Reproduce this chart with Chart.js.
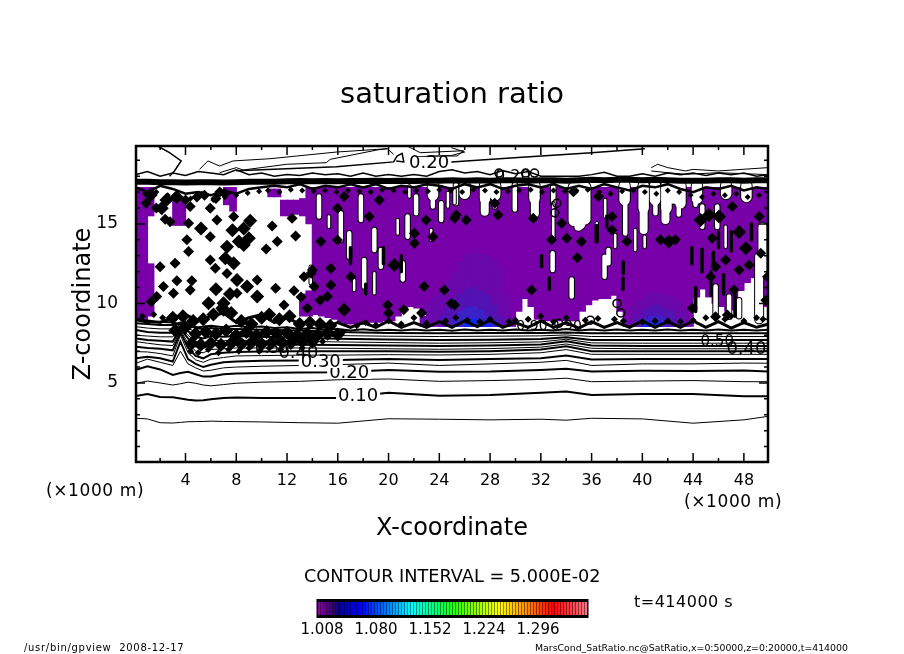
<!DOCTYPE html>
<html><head><meta charset="utf-8">
<style>
html,body{margin:0;padding:0;background:#fff;width:904px;height:654px;overflow:hidden}
#main{position:absolute;left:0;top:0}
#cb{position:absolute;left:296px;top:594px}
.t{position:absolute;font-family:"DejaVu Sans",sans-serif;color:#000;white-space:nowrap;line-height:1}
</style>
<script src="https://cdn.jsdelivr.net/npm/chart.js@4"></script>
</head><body>
<canvas id="main" width="904" height="654"></canvas>
<canvas id="cb" width="310" height="45"></canvas>
<div class="t" style="left:46px;top:482px;font-size:17px;letter-spacing:.6px">(×1000 m)</div>
<div class="t" style="left:684px;top:493px;font-size:17px;letter-spacing:.6px">(×1000 m)</div>
<div class="t" style="left:304px;top:568px;font-size:17.7px">CONTOUR INTERVAL = 5.000E-02</div>
<div class="t" style="left:634px;top:594px;font-size:16px;letter-spacing:.5px">t=414000 s</div>
<div class="t" style="left:24px;top:643px;font-size:10px;letter-spacing:.7px">/usr/bin/gpview&nbsp;&nbsp;2008-12-17</div>
<div class="t" style="left:535px;top:643px;font-size:9.35px">MarsCond_SatRatio.nc@SatRatio,x=0:50000,z=0:20000,t=414000</div>
<script>
const titleText = "saturation ratio";
const xTitle = "X-coordinate";
const zTitle = "Z-coordinate";
const xMajor = [4,8,12,16,20,24,28,32,36,40,44,48];
const xMinor = [2,6,10,14,18,22,26,30,34,38,42,46];
const zMajor = [5,10,15];
const zMinor = [1,2,3,4,6,7,8,9,11,12,13,14,16,17,18,19];

const contourX = [0.1,1,2,3,3.6,4.2,4.8,5.4,6,7,8,10,13,16,20,24,28,32,34,36,40,44,48,49.9];
const c00 = [2.78,2.74,2.5,2.48,2.52,2.56,2.57,2.58,2.6,2.58,2.57,2.55,2.5,2.47,2.75,2.72,2.68,2.72,2.66,2.78,2.74,2.47,2.68,2.9];
const c01 = [4.18,4.3,4.12,4.1,4.03,3.95,3.9,3.92,3.98,4.05,4.08,4.06,4.05,4.05,4.38,4.2,4.24,4.38,4.46,4.25,4.3,4.3,4.17,4.17];
const c02 = [4.98,5.12,5.0,4.87,4.95,5.05,4.98,4.87,4.82,4.9,4.98,5.05,5.1,5.2,5.25,5.1,5.15,5.22,5.3,5.08,5.12,5.15,5.08,5.08];
const c03 = [5.82,6.05,5.85,5.5,5.62,5.7,5.55,5.4,5.4,5.55,5.6,5.62,5.65,5.68,5.82,5.7,5.72,5.82,5.9,5.72,5.76,5.75,5.78,5.72];
const c04 = [6.24,6.5,6.3,6.1,7.0,6.2,5.95,5.75,5.8,5.95,6.0,6.05,6.1,6.15,6.25,6.1,6.2,6.3,6.42,6.1,6.2,6.2,6.25,6.24];
const c05 = [6.55,6.65,6.55,6.35,7.6,6.5,6.2,6.0,6.15,6.3,6.35,6.4,6.42,6.45,6.5,6.45,6.5,6.55,6.72,6.48,6.5,6.5,6.5,6.5];
const c06 = [6.97,6.95,6.85,6.7,8.0,6.9,6.45,6.3,6.5,6.6,6.7,6.72,6.75,6.75,6.78,6.76,6.8,6.9,7.1,6.8,6.8,6.8,6.8,6.8];
const c07 = [7.28,7.2,7.15,7.05,8.2,7.2,6.7,6.55,6.8,6.9,6.95,6.98,7.0,7.0,7.0,6.97,7.0,7.1,7.3,7.0,7.0,7.0,7.0,7.0];
const c08 = [7.6,7.5,7.4,7.35,8.3,7.5,7.0,6.9,7.1,7.15,7.2,7.2,7.2,7.18,7.15,7.12,7.16,7.25,7.45,7.18,7.15,7.15,7.15,7.15];
const c09 = [7.8,7.7,7.65,7.6,8.4,7.8,7.3,7.2,7.4,7.4,7.45,7.42,7.4,7.38,7.36,7.33,7.36,7.42,7.62,7.36,7.33,7.33,7.33,7.33];
const c10 = [8.0,7.95,7.9,7.9,8.5,8.0,7.6,7.5,7.7,7.65,7.7,7.65,7.62,7.58,7.54,7.5,7.53,7.58,7.75,7.52,7.5,7.5,7.5,7.5];
const c11 = [8.33,8.2,8.15,8.15,8.6,8.25,7.9,7.8,7.95,7.9,7.95,7.9,7.85,7.78,7.74,7.7,7.72,7.76,7.88,7.7,7.7,7.7,7.7,7.7];
const c12 = [8.54,8.45,8.4,8.4,8.7,8.45,8.2,8.1,8.2,8.15,8.2,8.1,8.05,7.98,7.94,7.92,7.94,7.96,8.02,7.92,7.92,7.92,7.92,7.92];
const c13 = [8.75,8.7,8.65,8.65,8.8,8.65,8.45,8.4,8.45,8.4,8.4,8.35,8.3,8.2,8.14,8.12,8.14,8.14,8.18,8.12,8.12,8.12,8.12,8.12];

const fringeX = [0.1,1,2,3,4,5,6,7,8,9,10,11,12,13,14,15,16,17,18,19,20,21,22,23,24,25,26,27,28,29,30,31,32,33,34,35,36,37,38,39,40,41,42,43,44,45,46,47,48,49,49.9];
const bandZ = [17.65,17.65,17.62,17.62,17.6,17.62,17.62,17.6,17.62,17.65,17.65,17.65,17.68,17.7,17.68,17.7,17.68,17.7,17.7,17.72,17.7,17.72,17.7,17.72,17.72,17.75,17.72,17.75,17.72,17.75,17.75,17.72,17.75,17.75,17.72,17.75,17.78,17.75,17.78,17.78,17.75,17.78,17.75,17.72,17.72,17.72,17.75,17.75,17.72,17.75,17.75];
const belowZ = [17.3,17.0,17.4,17.2,16.9,17.0,16.8,17.1,16.9,17.2,17.3,17.4,17.3,17.5,17.2,17.4,17.3,17.5,17.3,17.5,17.2,17.4,17.3,17.5,17.4,17.2,17.5,17.3,17.5,17.2,17.4,17.5,17.3,17.5,17.2,17.4,17.2,17.5,17.3,17.1,17.4,17.3,17.5,17.2,17.0,17.3,17.2,17.4,17.1,17.3,17.2];
const aboveZ = [18.1,18.3,18,18.2,18.05,18.3,18.2,18.1,18.4,18.1,18.2,18,18.1,18.05,18.2,18.1,18.15,18,18.2,18,18.1,18,18.1,18.0,18.3,18.4,18.2,18.3,18.1,18.35,18.15,18.3,18,18,18,18,18.1,18.25,18,18,18.15,18,18.2,18.1,18.2,18.05,18.2,18.1,18.2,18,18.1];
const baseZ = [9.0,8.9,8.8,9.1,9.3,8.9,9.2,9.4,8.8,9.1,9.3,8.8,9.1,8.7,8.8,8.5,8.8,8.5,8.8,8.5,8.9,8.5,8.8,8.5,8.85,8.5,8.9,8.55,8.95,8.5,8.8,8.5,8.9,8.5,8.8,8.45,8.85,8.5,8.8,8.5,8.9,8.5,8.85,8.5,8.9,8.5,8.85,8.45,8.8,8.5,8.7];
const base2Z = [8.95,8.8,8.85,8.8,8.6,8.5,8.6,8.5,8.6,8.5,8.55,8.45,8.5,8.4,8.45,8.35,8.4,8.3,8.38,8.3,8.35,8.3,8.36,8.3,8.35,8.28,8.36,8.3,8.35,8.3,8.36,8.3,8.35,8.3,8.4,8.3,8.36,8.3,8.36,8.3,8.35,8.3,8.36,8.3,8.35,8.3,8.36,8.3,8.35,8.3,8.35];

const topAX = [1.8,2.74,3.66,3.13,2.74];
const topAZ = [19.9,19.48,18.96,18.33,18.0];
const topBX = [5.1,5.77,6.69,7.75,10.65,12.76,15.9,19.9,20.4];
const topBZ = [18.43,18.96,18.64,18.96,19.1,19.27,19.52,19.73,19.38];
const topCX = [6.69,8.0,8.54,11.97,15.1,15.4,19.1,19.9];
const topCZ = [18.22,18.54,18.39,18.75,18.85,19.06,19.65,19.73];
const topDX = [8.0,15.9,20.4,20.67,21.07,21.2,20.6];
const topDZ = [18.35,18.6,18.9,19.27,19.44,18.9,18.95];
const topEX = [24.94,30.2,36,40.2];
const topEZ = [18.9,19.17,19.48,19.73];
const topFX = [21.46,22.5,25.9,25.4,23.3,22.1,24.94,26,24.94];
const topFZ = [19.9,19.48,19.6,19.27,19.27,19.2,19.3,19.52,19.8];
const topGX = [40.7,41.2,42,43.4,44,46,49.9];
const topGZ = [18.54,18.75,18.54,18.33,18.43,18.33,18.54];
const topHX = [40.7,42,43.4,46,49.9];
const topHZ = [18.33,18.22,18.12,18.22,18.1];

const purpleX = [0.25,0.75,1.25,1.25,3.25,3.75,7.25,7.75,10.75,11.25,11.75,12.25,12.75,13.25,13.75,13.25,13.75,
14.25,14.75,15.25,15.75,16.25,16.75,17.25,17.75,18.25,18.75,19.25,19.75,20.25,20.75,21.25,21.75,22.25,22.75,23.25,23.75,24.25,24.75,25.25,25.75,26.25,26.75,27.25,27.75,28.25,28.75,29.25,29.75,30.25,30.75,31.25,31.75,32.25,32.75,33.25,33.75,34.25,34.75,35.25,35.75,36.25,36.75,37.25,37.75,38.25,38.75,39.25,39.75,40.25,40.75,41.25,41.75,42.25,42.75,43.25,43.75,44.25,44.75,45.25,45.75,46.25,46.75,47.25,47.75,48.25,48.75,49.25,49.75];
const purpleLo = [9,9,9.2,15.5,14.9,14.9,16.2,15.8,16.7,16.7,15.5,15.5,15.6,15.5,15,9.2,9.2,
9.3,9.2,9.1,9,8.8,8.7,8.7,8.7,8.7,8.8,8.8,8.9,8.9,9.2,9.6,9.8,9.7,9.3,8.8,8.7,8.7,8.7,8.6,8.6,8.6,8.6,8.6,8.6,8.6,8.6,8.7,8.7,9.5,10.3,9.8,9,8.9,8.9,8.9,8.9,8.9,8.9,9.5,9.9,10.2,10.3,10.3,10.5,9.5,8.8,8.7,8.7,8.6,8.6,8.6,8.6,8.7,8.7,8.7,8.7,10.4,10.9,10.4,10,9.8,9.5,9.6,10.8,11.3,11.6,12.5,9.8];
const purpleHi = [17.3,17.3,12.5,17.3,16.5,16.5,17.3,17.3,17.2,17.2,16.5,16.5,16.5,16.6,17.3,10.6,10.8,
17.3,17.3,17.3,17.3,17.3,17.3,17.3,17.3,17.3,17.3,17.3,17.3,17.3,17.3,17.3,17.3,17.3,17.3,17.3,17.3,17.3,17.3,17.3,17.3,17.3,17.3,17.3,17.3,17.3,17.3,17.3,17.3,17.3,17.3,17.3,17.3,17.3,17.3,17.3,17.3,17.3,17.3,17.3,17.3,17.3,17.3,17.3,17.3,17.3,17.3,17.3,17.3,17.3,17.3,17.3,17.3,17.3,17.3,17.3,17.3,17.3,17.3,17.3,17.3,17.3,17.3,17.3,17.3,17.3,17.3,17.3,17.3];

const deep1X = [22.75,23.25,23.75,24.25,24.75,25.25,25.75,26.25,26.75,27.25,27.75,28.25,28.75,29.25,29.75,38.75,39.25,39.75,40.25,40.75,41.25,41.75,42.25,42.75,43.25,43.75];
const deep1Hi = [9.2,10,10.5,10.9,11.5,12,12.6,13.1,13.2,13.1,13,12.8,12.2,10.5,9.2,9,9.8,10.2,10.5,10.7,10.7,10.6,10.4,10.2,9.6,9];
const deep2X = [24.25,24.75,25.25,25.75,26.25,26.75,27.25,27.75,28.25,28.75,39.75,40.25,40.75,41.25,41.75,42.25,42.75];
const deep2Hi = [9.3,9.8,10.3,10.6,10.9,11,10.8,10.5,9.9,9.2,9.1,9.6,9.8,9.9,9.7,9.5,9.1];
const deep3X = [25.25,25.75,26.25,26.75,27.25,27.75,28.25,40.25,40.75,41.25,41.75];
const deep3Hi = [9,9.5,9.7,9.8,9.6,9.2,8.9,9,9.2,9.2,9.1];
const deep4X = [26.25,26.75,27.25,27.75,40.25,40.75,41.25];
const deep4Hi = [8.95,9.05,8.95,8.85,8.8,8.9,8.85];
const plumeBase = 8.55;

const hangX = [34.6,35.1,35.5,41.9,27.6,31.5,38.6,40.1,43,44.3,26,48.2,46.6,28.4,42.5,41,23.5];
const hangTop = [17.3,17.3,17.3,17.4,17.4,17.4,17.4,17.4,17.4,17.4,17.4,17.4,17.4,17.4,17.4,17.4,17.4];
const hangBot = [15.2,15,15.3,16,16.6,16.6,16.5,16,16.3,16.6,16.9,16.7,16.9,16.8,16.6,16.5,16.8];
const wideX = [34.96,41.82,27.58,31.53,40.1,49.2,49.46];
const wideTop = [17.1,17.45,17.45,17.45,17.35,12.94,14.83];
const wideBot = [14.83,15.25,15.77,15.67,14.62,9,11.9];
const medX = [28.37,29.95,32.98,38.65,41.03,42.87,44.19,48.15,46.56,25.31,32.93,34.43,37.02,37.33,44.72,45.9,45.77,46.83,47.62,14.52,16.24,17.82,18.88,16.9,18.08,19.4,21.5,21.12,22.17,23.49,24.15];
const medTop = [17.45,17.45,17.45,17.45,17.35,17.45,17.45,17.45,17.45,17.45,13.15,11.5,12.94,13.36,16.1,16.1,11.06,10.43,10.2,16.72,15.67,16.72,14.62,14.41,12.73,13.36,15.46,12.52,16.72,17.14,16.3];
const medBot = [16.1,15.9,16.3,14.4,15.67,15.6,16.2,16.6,16.7,16.3,12.1,10.43,11.68,12.52,14.83,14.8,9.17,9.17,9.2,15.46,14,15.25,13.36,12.94,11.06,12.3,14.2,11.5,15.67,16.1,15.25];
const thinX = [39.44,40.18,37.86,36.41,32.98,37.07,46.56,15.3,23.36,17.29,18.88,13.87,20.72,25.2,24.68,21.64];
const thinTop = [14.62,14.2,14.3,15.04,16.3,16.5,14.83,15.46,14.62,11.47,11.9,12.3,15.25,17.14,16.95,17.35];
const thinBot = [13.36,13.57,13.57,13.89,14,15.46,13.57,14.83,14,10.85,10.64,11.27,14.4,16.3,16.1,16.72];
const sliverX = [32.06,32.67,38.47,38.5,46,47,48.6,43.9,44.7,45.6,45.4,46.4,36.4,37.2,44.2,47.3,21,17,18.2,19.6];
const sliverTop = [13,11.6,11.6,12.6,14.5,14.5,15,13.5,13.4,13.2,12,11.8,14.9,15.5,11,10.6,13,13.5,11.2,13.5];
const sliverBot = [12.3,10.9,10.9,11.9,13.5,13.3,14,12.5,12,12.2,10.5,10.6,13.9,14.8,9.5,9.2,12,12.5,10.6,12.5];

const blobBigX = [8.59,8.99,7.27,8.59,7.14,7.8,5.82,7,8.06,8.85,9.65,5.22,1.26,2.13,20.46,16.5,45.25,46.04,44.59,48.15,47.62,42.08,7.7,8.2,9.1,6.9,7.5,6.4,3.3,2.5];
const blobBigZ = [14.72,14.1,13.57,13.68,12.84,12.52,10.01,10.01,11.47,11.06,10.43,14.72,16.82,15.98,12.42,9.6,15.56,15.46,15.25,13.47,14.5,13.9,14.6,13.9,15.2,9.7,10.6,10.9,16.7,16.5];
const blobX = [2.79,4.37,5.95,4.24,6.48,7.8,5.95,10.83,12.68,11.23,10.36,4.11,4.24,5.95,6.35,2,3.18,7.27,3.32,4.5,2.26,1.73,3.05,4.37,11.1,9.65,8.06,11.76,13.34,14.13,12.55,15.45,15.18,19.93,24.94,24.4,22.8,17.03,15.45,15.98,14.66,22.04,19.27,16.5,15.98,12.4,18.48,22.96,25.2,22.04,23.49,26.13,25.34,28.37,28.63,31.4,33.64,34.57,32.85,34.04,35.2,36.54,37.6,37.6,38.79,34.88,31.27,25.2,41.42,42.6,45.5,47.09,49.2,49.33,46.56,45.77,47.62,48.41,49.86,45.38,47.22,49.73,45.77,46.7,43.93,1.7,2.4,0.9,4,4.9,5.5,6.4,7.1,6.7,1.3,13.9,13.1,14.6,13.6,14,20,21.2,22.6];
const blobZ = [15.14,16.09,15.98,15.04,15.25,15.46,14.2,14.87,14.24,13.89,13.42,14,13.26,12.73,12.21,12.31,12.52,11.89,11.43,11.43,11.06,10.43,10.64,10.85,10.95,11.47,10.64,9.9,11.68,11.06,10.8,11.16,10.43,9.9,10,10.85,11.06,11.68,12.2,13.99,13.89,13.78,16.5,16.72,15.98,15.35,15.46,15.25,15.35,14.41,14.2,15.25,15.56,16.3,15.56,15.35,15.04,17.03,14,14.1,13.9,16.72,15.46,14.62,13.89,12.88,10.85,9.9,14,14,14.1,16.09,15.46,13.15,12.73,12.31,12.1,12.42,11.68,11.68,10.85,10.2,9.17,9.27,9.7,16,15.3,16.3,16.5,16.7,16.8,16.6,16.9,17,10.1,11.9,10.4,10.2,9.7,12.1,9.4,9.6,9.4];
const massX = [3,3.8,4.6,5.4,6.2,7,7.6,8.4,9.2,10,10.6,11.4,12.2,13,13.8,14.6,15.4,3.2,4,4.8,5.6,6.4,7.2,8,8.8,9.6,10.4,11.2,12,12.8,13.6,14.4,15.2,16,4.5,5.2,6,6.8,7.6,8.4,9.2,10,10.8,11.6,12.4,13.2,14];
const massZ = [9.1,9.2,8.9,9,9.3,9.6,9.4,8.9,8.7,9.1,9.3,9,9.2,8.7,8.8,8.7,8.6,8.3,8.5,8.1,8.2,8.1,8.3,8,8.2,8,8.2,8.1,8.15,8,8.1,8,8.1,8.05,7.5,7.4,7.5,7.4,7.5,7.45,7.55,7.45,7.55,7.55,7.6,7.6,7.6];
const specX = [4.4,5,5.8,6.6,7.4,8.2,9,9.8,10.6,11.5,12.3,13.2,14,14.8,15.6,16.4,17.5,19,21,23,24.5,26.2,28,29.5,31,33,35.5,38.5,41,43,45,46.5,48,49.5,0.6,1.5,2.2,18.2,20,22,25.3,27.2,30,32,34,36.5,37.8,40,42,44,47,49];
const specZ = [7,6.9,7.1,6.9,7.1,7,7.2,7,7.2,7.1,7.3,7.2,7.4,7.6,8.1,8.2,8.6,8.65,8.7,8.75,8.9,8.95,9,8.85,9,8.85,8.95,8.9,8.9,8.85,9.1,9,8.9,9,9.2,9.3,9.1,8.8,8.9,9.1,9.1,8.85,8.95,9.2,9.1,9.05,9,8.85,8.9,8.95,9.2,9.1];
const fuzzX = [0.8,1.7,2.6,3.5,4.4,5.3,6.2,7.1,8,8.9,9.8,10.5,11.4,12.3,13.2,14.1,15,15.9,16.8,17.7,18.6,19.5,20.4,21.3,22.2,23.1,24,24.9,25.8,26.7,27.6,28.5,29.4,30.3,31.2,32.1,33,33.9,34.8,35.7,36.6,37.5,38.4,39.3,40.2,41.1,42,42.9,43.8,44.7,45.6,46.5,47.4,48.3,49.2];
const fuzzZ = [16.9,17,16.8,16.7,16.6,16.9,16.5,16.7,16.8,16.95,17.05,17.1,17,17.15,17.1,17.05,17.1,17,17.1,17.05,17,17.15,17.1,17,17.1,17.05,17.15,17.1,17,17.15,17.1,17,17.05,17.1,17.15,17,17.1,17.05,17.1,17.15,17,16.9,17.05,17.1,17,16.9,17.1,17,16.8,16.7,16.9,16.8,16.9,16.7,16.8];
const ringX = [33.25,33.1,38,38.3,28.7,30.8,31.5,33.4,35.9];
const ringZ = [16.3,15.7,10,9.4,18.2,18.2,18.2,8.75,8.95];

const contourText = ["0.10","0.20","0.30","0.40","0.50","0.20","0.20","0.40","0.50","0.90","0.90"];
const contourTextX = [17.6,16.9,14.66,12.9,10.8,23.2,29.8,48.2,45.9,31.3,34];
const contourTextZ = [4.18,5.63,6.32,6.89,7.15,18.84,17.95,7.14,7.55,8.58,8.58];
const contourTextSize = [18,18,18,18,15,18,16,18,15,14,14];
const contourTextMask = [1,1,1,0,0,1,0,0,0,0,0];

const cbLevels = [1.004,1.008,1.012,1.016,1.020,1.024,1.028,1.032,1.036,1.040,1.044,1.048,1.052,1.056,1.060,1.064,1.068,1.072,1.076,1.080,1.084,1.088,1.092,1.096,1.100,1.104,1.108,1.112,1.116,1.120,1.124,1.128,1.132,1.136,1.140,1.144,1.148,1.152,1.156,1.160,1.164,1.168,1.172,1.176,1.180,1.184,1.188,1.192,1.196,1.200,1.204,1.208,1.212,1.216,1.220,1.224,1.228,1.232,1.236,1.240,1.244,1.248,1.252,1.256,1.260,1.264,1.268,1.272,1.276,1.280,1.284,1.288,1.292,1.296,1.300,1.304,1.308,1.312,1.316,1.320,1.324,1.328,1.332,1.336,1.340,1.344,1.348,1.352,1.356,1.360];
const cbTicks = ["1.008","1.080","1.152","1.224","1.296"];
const cbStopAt = [0,5,7,14,24,31,40,46,60,70,78,89];
const cbStopRGB = [[138,0,168],[48,0,112],[0,0,160],[0,0,255],[0,144,255],[0,255,255],[0,255,96],[48,255,0],[255,255,0],[255,128,0],[255,0,0],[255,112,128]];

const PURPLE='#7800a8', FONT='"DejaVu Sans", sans-serif';
const pts=(xs,zs)=>xs.map((x,i)=>({x,y:zs[i]}));
const line=(xs,zs,w)=>({type:'scatter',showLine:true,pointRadius:0,borderColor:'#000',backgroundColor:'#000',borderWidth:w,tension:0,fill:false,data:pts(xs,zs)});
const floats=(xs,lo,hi,c,th)=>({type:'bar',grouped:false,barThickness:th,backgroundColor:c,borderWidth:0,borderSkipped:false,data:xs.map((x,i)=>({x,y:[Array.isArray(lo)?lo[i]:lo,hi[i]]}))});
const streak=(xs,top,bot,w,c)=>({type:'scatter',showLine:true,pointRadius:0,borderColor:c,borderWidth:w,borderCapStyle:'round',spanGaps:false,data:xs.flatMap((x,i)=>[{x,y:top[i]},{x,y:bot[i]},{x,y:null}])});
const dots=(xs,zs,r,style)=>({type:'scatter',showLine:false,pointStyle:style||'rectRot',pointRadius:r,pointBackgroundColor:'#000',pointBorderColor:'#000',pointBorderWidth:0,data:pts(xs,zs)});

const layers=[
 floats(purpleX,purpleLo,purpleHi,PURPLE,7),
 floats(deep1X,plumeBase,deep1Hi,'#6a08ac',7),
 floats(deep2X,plumeBase,deep2Hi,'#5212b4',7),
 floats(deep3X,plumeBase,deep3Hi,'#3a22c8',7),
 floats(deep4X,plumeBase,deep4Hi,'#1028e8',7),
 streak(hangX,hangTop,hangBot,12.5,'#000'),
 streak(wideX,wideTop,wideBot,10,'#000'),
 streak(medX,medTop,medBot,6.5,'#000'),
 streak(hangX,hangTop,hangBot,10.5,'#fff'),
 streak(wideX,wideTop,wideBot,8,'#fff'),
 streak(medX,medTop,medBot,4.5,'#fff'),
 streak(thinX,thinTop,thinBot,4.5,'#000'),streak(thinX,thinTop,thinBot,2.5,'#fff'),
 streak(sliverX,sliverTop,sliverBot,3.5,'#000'),
 dots(blobX,blobZ,5.5),dots(blobBigX,blobBigZ,7),dots(massX,massZ,7),dots(specX,specZ,3.5),dots(fuzzX,fuzzZ,3),
 {type:'scatter',showLine:false,pointStyle:'circle',pointRadius:4,pointBackgroundColor:'rgba(0,0,0,0)',pointBorderColor:'#000',pointBorderWidth:1.5,data:pts(ringX,ringZ)},
 line(contourX,c00,1),line(contourX,c01,2),line(contourX,c02,1),line(contourX,c03,2),line(contourX,c04,1),line(contourX,c05,2),
 line(contourX,c06,1),line(contourX,c07,2),line(contourX,c08,1),line(contourX,c09,2),line(contourX,c10,1),line(contourX,c11,2),line(contourX,c12,1),line(contourX,c13,2),
 line(fringeX,baseZ,3),line(fringeX,base2Z,2),
 line(fringeX,belowZ,2.5),line(fringeX,bandZ,6),line(fringeX,aboveZ,1.5),
 line(topAX,topAZ,1.5),line(topBX,topBZ,1),line(topCX,topCZ,1),line(topDX,topDZ,1.5),line(topEX,topEZ,1.5),line(topFX,topFZ,1),line(topGX,topGZ,1),line(topHX,topHZ,1)
];
layers.forEach((d,i)=>{d.order=1000-i;d.clip=true;});

const framePlugin={id:'frame',afterDatasetsDraw(c){
 const {ctx,chartArea:a,scales:{x,y}}=c;
 ctx.save();
 ctx.textAlign='center';ctx.textBaseline='middle';
 contourText.forEach((t,i)=>{
  const px=x.getPixelForValue(contourTextX[i]),py=y.getPixelForValue(contourTextZ[i]);
  ctx.font=contourTextSize[i]+'px '+FONT;
  if(contourTextMask[i]){const w=ctx.measureText(t).width+4;ctx.fillStyle='#fff';ctx.fillRect(px-w/2,py-6,w,12);}
  ctx.fillStyle='#000';ctx.fillText(t,px,py);
 });
 ctx.strokeStyle='#000';
 const tx=(v,l)=>{const p=x.getPixelForValue(v);ctx.beginPath();ctx.moveTo(p,a.bottom);ctx.lineTo(p,a.bottom-l);ctx.moveTo(p,a.top);ctx.lineTo(p,a.top+l);ctx.stroke();};
 const ty=(v,l)=>{const p=y.getPixelForValue(v);ctx.beginPath();ctx.moveTo(a.left,p);ctx.lineTo(a.left+l,p);ctx.moveTo(a.right,p);ctx.lineTo(a.right-l,p);ctx.stroke();};
 ctx.lineWidth=1.5;
 xMajor.forEach(v=>tx(v,9));xMinor.forEach(v=>tx(v,4));zMajor.forEach(v=>ty(v,9));zMinor.forEach(v=>ty(v,4));
 ctx.lineWidth=2.5;ctx.strokeRect(a.left,a.top,a.right-a.left,a.bottom-a.top);
 ctx.restore();
}};

new Chart(document.getElementById('main'),{
 type:'bar',
 data:{datasets:layers},
 plugins:[framePlugin],
 options:{
  responsive:false,animation:false,devicePixelRatio:1,
  layout:{padding:0},
  plugins:{legend:{display:false},tooltip:{enabled:false},
   title:{display:true,text:titleText,color:'#000',font:{family:FONT,size:29,weight:'normal',lineHeight:1.2},padding:{top:78,bottom:33.2},align:'center',fullSize:true}},
  scales:{
   x:{type:'linear',offset:false,min:0.1,max:49.9,grid:{display:false},border:{display:false},
      afterBuildTicks(s){s.ticks=xMajor.map(v=>({value:v}));},
      afterFit(s){s.height=192;},
      ticks:{autoSkip:false,maxRotation:0,padding:1,color:'#000',font:{family:FONT,size:16}},
      title:{display:true,text:xTitle,color:'#000',font:{family:FONT,size:24,lineHeight:1.2},padding:{top:0,bottom:111}}},
   y:{type:'linear',min:0.03,max:19.9,grid:{display:false},border:{display:false},
      afterBuildTicks(s){s.ticks=zMajor.map(v=>({value:v}));},
      afterFit(s){s.width=136;},
      ticks:{autoSkip:false,padding:10,color:'#000',font:{family:FONT,size:17}},
      title:{display:true,text:zTitle,color:'#000',font:{family:FONT,size:24,lineHeight:1.2},padding:{top:69,bottom:0}}},
   spacer:{type:'linear',position:'right',display:true,grid:{display:false},border:{display:false},ticks:{display:false},afterFit(s){s.width=136;}}
  }
 }
});

const cbColor=i=>{let k=0;while(k<cbStopAt.length-2&&i>cbStopAt[k+1])k++;
 const f=(i-cbStopAt[k])/(cbStopAt[k+1]-cbStopAt[k]),A=cbStopRGB[k],B=cbStopRGB[k+1];
 return 'rgb('+A.map((v,j)=>Math.round(v+(B[j]-v)*f)).join(',')+')';};
const cbBack={id:'cbBack',beforeDatasetsDraw(c){const {ctx,chartArea:a}=c;ctx.save();ctx.fillStyle='#000';ctx.fillRect(a.left-1,a.top-3,a.right-a.left+2,a.bottom-a.top+6);ctx.restore();}};
new Chart(document.getElementById('cb'),{
 type:'bar',
 data:{labels:cbLevels.map(v=>v.toFixed(3)),datasets:[{data:cbLevels.map(()=>1),backgroundColor:cbLevels.map((v,i)=>cbColor(i)),barThickness:2,borderWidth:0}]},
 plugins:[cbBack],
 options:{responsive:false,animation:false,devicePixelRatio:1,
  layout:{padding:{left:21.5,right:18.5,top:8,bottom:0}},
  plugins:{legend:{display:false},tooltip:{enabled:false}},
  scales:{
   x:{grid:{display:false,drawTicks:false},border:{display:false},
      afterFit(s){s.height=24;},
      ticks:{autoSkip:false,maxRotation:0,minRotation:0,padding:6,color:'#000',font:{family:FONT,size:15},
        callback(v){const l=this.getLabelForValue(v);return cbTicks.includes(l)?l:'';}}},
   y:{display:false,min:0,max:1}
  }
 }
});
</script>
</body></html>
